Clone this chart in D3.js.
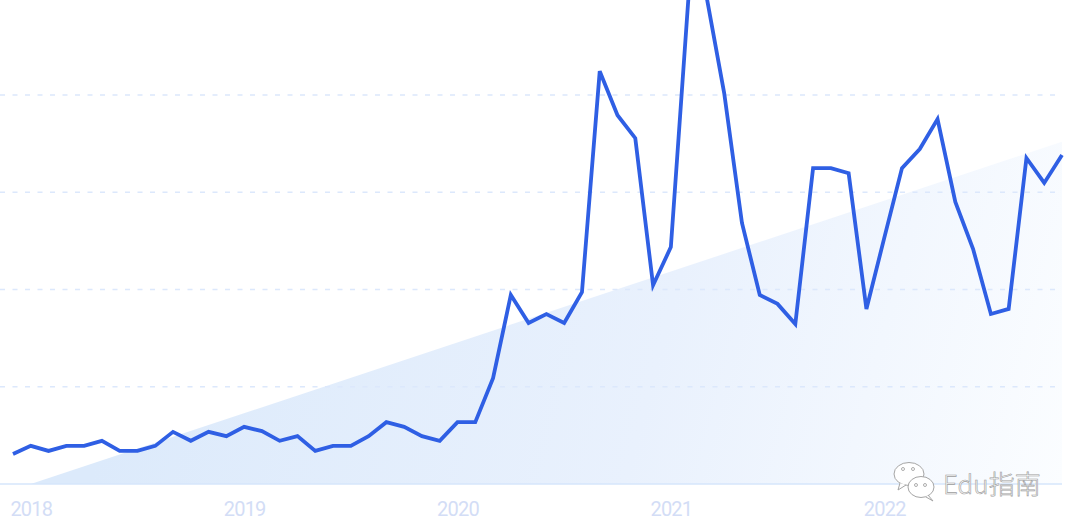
<!DOCTYPE html>
<html>
<head>
<meta charset="utf-8">
<script src="https://cdn.jsdelivr.net/npm/d3@7/dist/d3.min.js"></script>
<style>
  html, body { margin: 0; padding: 0; background: #ffffff; }
  svg { display: block; }
</style>
</head>
<body>
<svg id="chart" width="1080" height="530"></svg>
<script>
// ---- data ----
const months = [
  "2017-12","2018-01","2018-02","2018-03","2018-04","2018-05","2018-06","2018-07","2018-08","2018-09","2018-10","2018-11",
  "2018-12","2019-01","2019-02","2019-03","2019-04","2019-05","2019-06","2019-07","2019-08","2019-09","2019-10","2019-11",
  "2019-12","2020-01","2020-02","2020-03","2020-04","2020-05","2020-06","2020-07","2020-08","2020-09","2020-10","2020-11",
  "2020-12","2021-01","2021-02","2021-03","2021-04","2021-05","2021-06","2021-07","2021-08","2021-09","2021-10","2021-11",
  "2021-12","2022-01","2022-02","2022-03","2022-04","2022-05","2022-06","2022-07","2022-08","2022-09","2022-10","2022-11"
];
const values = [
  7.7, 9.8, 8.5, 9.8, 9.8, 11.1, 8.5, 8.5, 9.8, 13.4, 11.1, 13.4,
  12.3, 14.7, 13.6, 11.1, 12.3, 8.5, 9.8, 9.8, 12.3, 15.9, 14.7, 12.3,
  11.1, 15.9, 15.9, 27.2, 48.6, 41.4, 43.7, 41.4, 49.3, 106.1, 94.8, 88.9,
  51.1, 60.9, 125.7, 125.5, 100.5, 67.1, 48.6, 46.3, 41.1, 81.2, 81.2, 79.9,
  45.0, 63.2, 81.2, 86.1, 93.8, 72.5, 60.4, 43.7, 45.0, 83.8, 77.4, 84.6
];
const tickMonths = ["2018-01","2019-01","2020-01","2021-01","2022-01"];
const tickLabels = ["2018","2019","2020","2021","2022"];
const gridValues = [25, 50, 75, 100];
const trendMonths = ["2018-01","2022-11"];
const trendValues = [0, 88];
const watermark = "Edu指南";

// ---- scales ----
const svg = d3.select("#chart");
const x = d3.scalePoint().domain(months).range([13, 1062]);
const y = d3.scaleLinear().domain([0, 100]).range([484, 95]);
const plotRight = 1062;

// ---- gradient for trend area ----
const defs = svg.append("defs");
const grad = defs.append("linearGradient")
  .attr("id", "trendGrad")
  .attr("gradientUnits", "userSpaceOnUse")
  .attr("x1", 150).attr("y1", 250)
  .attr("x2", 1062).attr("y2", 490);
grad.append("stop").attr("offset", 0).attr("stop-color", "#dceafb");
grad.append("stop").attr("offset", 0.55).attr("stop-color", "#e9f1fd");
grad.append("stop").attr("offset", 1).attr("stop-color", "#fbfdff");

// trend area
const trend = trendMonths.map((m, i) => ({ m, v: trendValues[i] }));
svg.append("path")
  .datum(trend)
  .attr("fill", "url(#trendGrad)")
  .attr("d", d3.area().x(d => x(d.m)).y0(y(0)).y1(d => y(d.v)));

// gridlines (dashed)
svg.append("g").selectAll("line")
  .data(gridValues)
  .join("line")
  .attr("x1", 0).attr("x2", plotRight)
  .attr("y1", d => y(d)).attr("y2", d => y(d))
  .attr("stroke", "#dce8fc")
  .attr("stroke-width", 1.3)
  .attr("stroke-dasharray", "5,7.5");

// baseline
svg.append("line")
  .attr("x1", 0).attr("x2", plotRight)
  .attr("y1", y(0)).attr("y2", y(0))
  .attr("stroke", "#d6e6fb")
  .attr("stroke-width", 1.3);

// x axis labels
const xAxis = d3.axisBottom(x)
  .tickValues(tickMonths)
  .tickFormat((d, i) => tickLabels[i])
  .tickSize(0)
  .tickPadding(0);
const gx = svg.append("g").attr("transform", `translate(0, ${y(0)})`).call(xAxis);
gx.select(".domain").remove();
gx.selectAll("text")
  .attr("dy", null)
  .attr("y", 32)
  .attr("fill", "#d3ddf6")
  .attr("font-family", "Roboto, 'Noto Sans', sans-serif")
  .attr("font-size", 20)
  .attr("letter-spacing", "-0.8px");

// main line
const data = months.map((m, i) => ({ m, v: values[i] }));
svg.append("path")
  .datum(data)
  .attr("fill", "none")
  .attr("stroke", "#2f5fe4")
  .attr("stroke-width", 3.8)
  .attr("stroke-linejoin", "miter")
  .attr("d", d3.line().x(d => x(d.m)).y(d => y(d.v)));

// watermark (WeChat-style icon + text)
const wm = svg.append("g").attr("transform", "translate(893, 462)");
wm.append("ellipse").attr("cx", 16).attr("cy", 12).attr("rx", 15).attr("ry", 11.5)
  .attr("fill", "#ffffff").attr("stroke", "#a5a5a5").attr("stroke-width", 1);
wm.append("path").attr("d", "M7,21 L5,28 L13,23").attr("fill", "#ffffff").attr("stroke", "#a5a5a5").attr("stroke-width", 1);
wm.append("ellipse").attr("cx", 28).attr("cy", 25).attr("rx", 13).attr("ry", 10.5)
  .attr("fill", "#ffffff").attr("stroke", "#a5a5a5").attr("stroke-width", 1);
wm.append("path").attr("d", "M35,33 L40,39 L33,35").attr("fill", "#ffffff").attr("stroke", "#a5a5a5").attr("stroke-width", 1);
[[10, 7], [20, 7], [23, 23], [32, 23]].forEach(p => {
  wm.append("circle").attr("cx", p[0]).attr("cy", p[1]).attr("r", 1.5)
    .attr("fill", "#ffffff").attr("stroke", "#a5a5a5").attr("stroke-width", 0.9);
});
svg.append("text")
  .attr("x", 943).attr("y", 494)
  .attr("font-family", "'Noto Sans CJK SC', 'Noto Sans', sans-serif")
  .attr("font-size", 26)
  .attr("font-weight", 300)
  .attr("fill", "#fafafa")
  .attr("stroke", "#9c9c9c")
  .attr("stroke-width", 0.6)
  .text(watermark);
</script>
</body>
</html>
